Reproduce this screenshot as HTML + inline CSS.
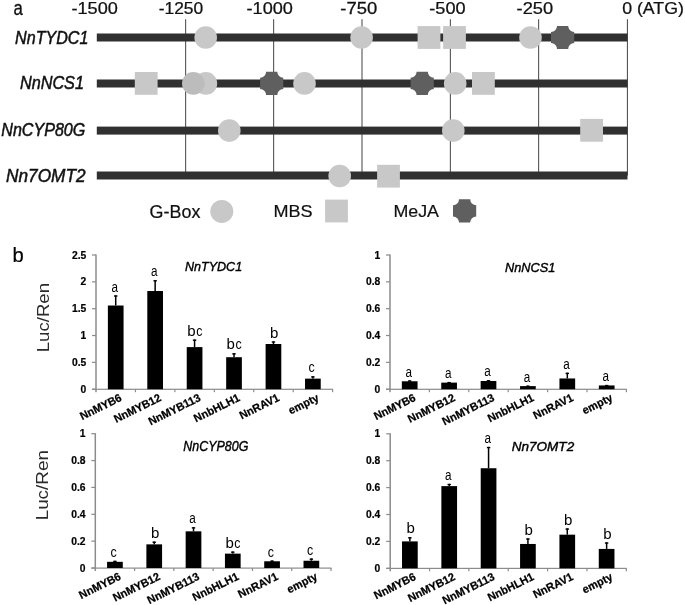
<!DOCTYPE html>
<html><head><meta charset="utf-8"><style>
html,body{margin:0;padding:0;background:#fff;}
svg{display:block;filter:blur(0.3px);font-family:"Liberation Sans",sans-serif;}
</style></head><body>
<svg width="685" height="605" viewBox="0 0 685 605">
<rect width="685" height="605" fill="#fff"/>
<text transform="translate(13.49,14.60) scale(0.8586,1)" font-size="19.54" font-weight="normal" font-style="normal" fill="#111" stroke="#111" stroke-width="0.3">a</text>
<text transform="translate(71.48,14.14) scale(1.1161,1)" font-size="16.25" font-weight="normal" font-style="normal" fill="#111" stroke="#111" stroke-width="0.25">-1500</text>
<text transform="translate(158.72,14.14) scale(1.0713,1)" font-size="16.25" font-weight="normal" font-style="normal" fill="#111" stroke="#111" stroke-width="0.25">-1250</text>
<text transform="translate(246.58,14.14) scale(1.1161,1)" font-size="16.25" font-weight="normal" font-style="normal" fill="#111" stroke="#111" stroke-width="0.25">-1000</text>
<text transform="translate(340.37,14.14) scale(1.1358,1)" font-size="16.25" font-weight="normal" font-style="normal" fill="#111" stroke="#111" stroke-width="0.25">-750</text>
<text transform="translate(429.28,14.14) scale(1.1165,1)" font-size="16.25" font-weight="normal" font-style="normal" fill="#111" stroke="#111" stroke-width="0.25">-500</text>
<text transform="translate(516.58,14.14) scale(1.1230,1)" font-size="16.25" font-weight="normal" font-style="normal" fill="#111" stroke="#111" stroke-width="0.25">-250</text>
<text transform="translate(622.19,13.94) scale(1.1104,1)" font-size="15.97" font-weight="normal" font-style="normal" fill="#111" stroke="#111" stroke-width="0.25">0 (ATG)</text>
<text transform="translate(15.12,43.70) scale(0.8996,1)" font-size="17.89" font-weight="normal" font-style="italic" fill="#111" stroke="#111" stroke-width="0.5">NnTYDC1</text>
<text transform="translate(19.91,89.00) scale(0.8998,1)" font-size="18.04" font-weight="normal" font-style="italic" fill="#111" stroke="#111" stroke-width="0.5">NnNCS1</text>
<text transform="translate(1.27,136.00) scale(0.8926,1)" font-size="18.04" font-weight="normal" font-style="italic" fill="#111" stroke="#111" stroke-width="0.5">NnCYP80G</text>
<text transform="translate(6.08,182.00) scale(0.9334,1)" font-size="18.47" font-weight="normal" font-style="italic" fill="#111" stroke="#111" stroke-width="0.5">Nn7OMT2</text>
<rect x="185.15" y="19.2" width="1" height="156.3" fill="#444"/>
<rect x="273.15" y="19.2" width="1" height="156.3" fill="#444"/>
<rect x="361.50" y="19.2" width="1" height="156.3" fill="#444"/>
<rect x="449.85" y="19.2" width="1" height="156.3" fill="#444"/>
<rect x="538.15" y="19.2" width="1" height="156.3" fill="#444"/>
<rect x="626.90" y="19.2" width="1" height="156.3" fill="#444"/>
<rect x="96.8" y="33.5" width="530.7" height="8" fill="#303030"/>
<rect x="96.8" y="79.5" width="530.7" height="8" fill="#303030"/>
<rect x="96.8" y="126.6" width="530.7" height="8" fill="#303030"/>
<rect x="96.8" y="171.5" width="530.7" height="8" fill="#303030"/>
<circle cx="205.7" cy="37.5" r="11.3" fill="#c8c8c8"/>
<circle cx="361.6" cy="37.5" r="11.3" fill="#c8c8c8"/>
<rect x="417.60" y="26.10" width="22.8" height="22.8" fill="#c8c8c8"/>
<rect x="443.10" y="26.10" width="22.8" height="22.8" fill="#c8c8c8"/>
<circle cx="530.5" cy="37.5" r="11.3" fill="#c8c8c8"/>
<path d="M557.00,25.90 L568.20,25.90 A6.0,6.0 0 0 0 574.20,31.90 L574.20,43.10 A6.0,6.0 0 0 0 568.20,49.10 L557.00,49.10 A6.0,6.0 0 0 0 551.00,43.10 L551.00,31.90 A6.0,6.0 0 0 0 557.00,25.90 Z" fill="#5f5f5f"/>
<rect x="134.80" y="72.00" width="22.8" height="22.8" fill="#c8c8c8"/>
<circle cx="205.9" cy="83.4" r="11.3" fill="#c8c8c8"/>
<circle cx="193.3" cy="83.4" r="11.3" fill="#bcbcbc"/>
<path d="M266.10,71.80 L277.30,71.80 A6.0,6.0 0 0 0 283.30,77.80 L283.30,89.00 A6.0,6.0 0 0 0 277.30,95.00 L266.10,95.00 A6.0,6.0 0 0 0 260.10,89.00 L260.10,77.80 A6.0,6.0 0 0 0 266.10,71.80 Z" fill="#5f5f5f"/>
<circle cx="304.5" cy="83.4" r="11.3" fill="#c8c8c8"/>
<path d="M416.60,71.80 L427.80,71.80 A6.0,6.0 0 0 0 433.80,77.80 L433.80,89.00 A6.0,6.0 0 0 0 427.80,95.00 L416.60,95.00 A6.0,6.0 0 0 0 410.60,89.00 L410.60,77.80 A6.0,6.0 0 0 0 416.60,71.80 Z" fill="#5f5f5f"/>
<circle cx="455.2" cy="83.4" r="11.3" fill="#c8c8c8"/>
<rect x="472.00" y="72.00" width="22.8" height="22.8" fill="#c8c8c8"/>
<circle cx="229.3" cy="130.6" r="11.3" fill="#c8c8c8"/>
<circle cx="453.3" cy="130.6" r="11.3" fill="#c8c8c8"/>
<rect x="580.20" y="118.90" width="22.8" height="22.8" fill="#c8c8c8"/>
<circle cx="339.7" cy="176.0" r="11.3" fill="#c8c8c8"/>
<rect x="377.10" y="164.80" width="22.8" height="22.8" fill="#c8c8c8"/>
<text transform="translate(149.60,217.60) scale(1.0185,1)" font-size="17.60" font-weight="normal" font-style="normal" fill="#111" stroke="#111" stroke-width="0.2">G-Box</text>
<circle cx="221.8" cy="211.4" r="11.5" fill="#c8c8c8"/>
<text transform="translate(273.41,216.90) scale(1.0613,1)" font-size="17.02" font-weight="normal" font-style="normal" fill="#111" stroke="#111" stroke-width="0.2">MBS</text>
<rect x="325.10" y="199.60" width="22.8" height="22.8" fill="#c8c8c8"/>
<text transform="translate(393.43,216.90) scale(1.0481,1)" font-size="17.02" font-weight="normal" font-style="normal" fill="#111" stroke="#111" stroke-width="0.2">MeJA</text>
<path d="M459.00,199.30 L470.20,199.30 A6.0,6.0 0 0 0 476.20,205.30 L476.20,216.50 A6.0,6.0 0 0 0 470.20,222.50 L459.00,222.50 A6.0,6.0 0 0 0 453.00,216.50 L453.00,205.30 A6.0,6.0 0 0 0 459.00,199.30 Z" fill="#5f5f5f"/>
<text transform="translate(12.39,261.59) scale(0.9652,1)" font-size="20.95" font-weight="normal" font-style="normal" fill="#000" stroke="#000" stroke-width="0.2">b</text>
<rect x="95.25" y="254.50" width="1.5" height="137.70" fill="#8c8c8c"/>
<rect x="92.00" y="388.70" width="241.10" height="1.2" fill="#8c8c8c"/>
<rect x="92.00" y="388.60" width="4" height="1.2" fill="#8c8c8c"/>
<rect x="92.00" y="361.76" width="4" height="1.2" fill="#8c8c8c"/>
<rect x="92.00" y="334.92" width="4" height="1.2" fill="#8c8c8c"/>
<rect x="92.00" y="308.08" width="4" height="1.2" fill="#8c8c8c"/>
<rect x="92.00" y="281.24" width="4" height="1.2" fill="#8c8c8c"/>
<rect x="92.00" y="254.40" width="4" height="1.2" fill="#8c8c8c"/>
<rect x="134.83" y="389.20" width="1.2" height="3" fill="#8c8c8c"/>
<rect x="174.27" y="389.20" width="1.2" height="3" fill="#8c8c8c"/>
<rect x="213.70" y="389.20" width="1.2" height="3" fill="#8c8c8c"/>
<rect x="253.13" y="389.20" width="1.2" height="3" fill="#8c8c8c"/>
<rect x="292.57" y="389.20" width="1.2" height="3" fill="#8c8c8c"/>
<rect x="332.00" y="389.20" width="1.2" height="3" fill="#8c8c8c"/>
<rect x="107.87" y="305.51" width="15.7" height="83.69" fill="#000"/>
<rect x="114.97" y="295.31" width="1.5" height="10.20" fill="#000"/>
<rect x="114.02" y="295.31" width="3.4" height="1.4" fill="#000"/>
<text transform="translate(111.57,291.51) scale(0.78,1)" font-size="15.0" fill="#000">a</text>
<rect x="147.30" y="291.02" width="15.7" height="98.18" fill="#000"/>
<rect x="154.40" y="280.12" width="1.5" height="10.90" fill="#000"/>
<rect x="153.45" y="280.12" width="3.4" height="1.4" fill="#000"/>
<text transform="translate(151.00,276.32) scale(0.78,1)" font-size="15.0" fill="#000">a</text>
<rect x="186.73" y="347.11" width="15.7" height="42.09" fill="#000"/>
<rect x="193.83" y="339.49" width="1.5" height="7.62" fill="#000"/>
<rect x="192.88" y="339.49" width="3.4" height="1.4" fill="#000"/>
<text transform="translate(187.18,335.69) scale(1.0,1)" font-size="15.0" fill="#000">b</text>
<text transform="translate(196.13,335.69) scale(0.83,1)" font-size="15.0" fill="#000">c</text>
<rect x="226.17" y="357.21" width="15.7" height="31.99" fill="#000"/>
<rect x="233.27" y="353.18" width="1.5" height="4.03" fill="#000"/>
<rect x="232.32" y="353.18" width="3.4" height="1.4" fill="#000"/>
<text transform="translate(226.62,349.38) scale(1.0,1)" font-size="15.0" fill="#000">b</text>
<text transform="translate(235.56,349.38) scale(0.83,1)" font-size="15.0" fill="#000">c</text>
<rect x="265.60" y="344.00" width="15.7" height="45.20" fill="#000"/>
<rect x="272.70" y="341.32" width="1.5" height="2.68" fill="#000"/>
<rect x="271.75" y="341.32" width="3.4" height="1.4" fill="#000"/>
<text transform="translate(270.12,337.52) scale(1.0,1)" font-size="15.0" fill="#000">b</text>
<rect x="305.03" y="378.63" width="15.7" height="10.57" fill="#000"/>
<rect x="312.13" y="376.21" width="1.5" height="2.42" fill="#000"/>
<rect x="311.18" y="376.21" width="3.4" height="1.4" fill="#000"/>
<text transform="translate(308.48,372.41) scale(0.83,1)" font-size="15.0" fill="#000">c</text>
<text x="86.30" y="392.80" text-anchor="end" font-size="10.3" font-weight="bold" fill="#000" stroke="#000" stroke-width="0.2">0</text>
<text x="86.30" y="365.96" text-anchor="end" font-size="10.3" font-weight="bold" fill="#000" stroke="#000" stroke-width="0.2">0.5</text>
<text x="86.30" y="339.12" text-anchor="end" font-size="10.3" font-weight="bold" fill="#000" stroke="#000" stroke-width="0.2">1</text>
<text x="86.30" y="312.28" text-anchor="end" font-size="10.3" font-weight="bold" fill="#000" stroke="#000" stroke-width="0.2">1.5</text>
<text x="86.30" y="285.44" text-anchor="end" font-size="10.3" font-weight="bold" fill="#000" stroke="#000" stroke-width="0.2">2</text>
<text x="86.30" y="258.60" text-anchor="end" font-size="10.3" font-weight="bold" fill="#000" stroke="#000" stroke-width="0.2">2.5</text>
<text transform="translate(122.52,400.20) rotate(-26.5) scale(0.975,1)" text-anchor="end" font-size="11.25" font-weight="bold" font-style="normal" fill="#000" stroke="#000" stroke-width="0.25">NnMYB6</text>
<text transform="translate(161.95,400.20) rotate(-26.5) scale(0.975,1)" text-anchor="end" font-size="11.25" font-weight="bold" font-style="normal" fill="#000" stroke="#000" stroke-width="0.25">NnMYB12</text>
<text transform="translate(201.38,400.20) rotate(-26.5) scale(0.975,1)" text-anchor="end" font-size="11.25" font-weight="bold" font-style="normal" fill="#000" stroke="#000" stroke-width="0.25">NnMYB113</text>
<text transform="translate(240.82,400.20) rotate(-26.5) scale(0.975,1)" text-anchor="end" font-size="11.25" font-weight="bold" font-style="normal" fill="#000" stroke="#000" stroke-width="0.25">NnbHLH1</text>
<text transform="translate(280.25,400.20) rotate(-26.5) scale(0.975,1)" text-anchor="end" font-size="11.25" font-weight="bold" font-style="normal" fill="#000" stroke="#000" stroke-width="0.25">NnRAV1</text>
<text transform="translate(319.68,400.20) rotate(-26.5) scale(0.975,1)" text-anchor="end" font-size="11.25" font-weight="bold" font-style="normal" fill="#000" stroke="#000" stroke-width="0.25">empty</text>
<text transform="translate(184.92,271.30) scale(0.9703,1)" font-size="12.95" font-weight="normal" font-style="italic" fill="#000" stroke="#000" stroke-width="0.4">NnTYDC1</text>
<rect x="389.25" y="254.50" width="1.5" height="137.70" fill="#8c8c8c"/>
<rect x="386.00" y="388.70" width="240.90" height="1.2" fill="#8c8c8c"/>
<rect x="386.00" y="388.60" width="4" height="1.2" fill="#8c8c8c"/>
<rect x="386.00" y="361.76" width="4" height="1.2" fill="#8c8c8c"/>
<rect x="386.00" y="334.92" width="4" height="1.2" fill="#8c8c8c"/>
<rect x="386.00" y="308.08" width="4" height="1.2" fill="#8c8c8c"/>
<rect x="386.00" y="281.24" width="4" height="1.2" fill="#8c8c8c"/>
<rect x="386.00" y="254.40" width="4" height="1.2" fill="#8c8c8c"/>
<rect x="428.80" y="389.20" width="1.2" height="3" fill="#8c8c8c"/>
<rect x="468.20" y="389.20" width="1.2" height="3" fill="#8c8c8c"/>
<rect x="507.60" y="389.20" width="1.2" height="3" fill="#8c8c8c"/>
<rect x="547.00" y="389.20" width="1.2" height="3" fill="#8c8c8c"/>
<rect x="586.40" y="389.20" width="1.2" height="3" fill="#8c8c8c"/>
<rect x="625.80" y="389.20" width="1.2" height="3" fill="#8c8c8c"/>
<rect x="401.85" y="381.28" width="15.7" height="7.92" fill="#000"/>
<rect x="408.95" y="380.34" width="1.5" height="0.94" fill="#000"/>
<rect x="408.00" y="380.34" width="3.4" height="1.4" fill="#000"/>
<text transform="translate(405.55,376.54) scale(0.78,1)" font-size="15.0" fill="#000">a</text>
<rect x="441.25" y="382.62" width="15.7" height="6.58" fill="#000"/>
<rect x="448.35" y="381.95" width="1.5" height="0.67" fill="#000"/>
<rect x="447.40" y="381.95" width="3.4" height="1.4" fill="#000"/>
<text transform="translate(444.95,378.15) scale(0.78,1)" font-size="15.0" fill="#000">a</text>
<rect x="480.65" y="381.01" width="15.7" height="8.19" fill="#000"/>
<rect x="487.75" y="380.07" width="1.5" height="0.94" fill="#000"/>
<rect x="486.80" y="380.07" width="3.4" height="1.4" fill="#000"/>
<text transform="translate(484.35,376.27) scale(0.78,1)" font-size="15.0" fill="#000">a</text>
<rect x="520.05" y="386.11" width="15.7" height="3.09" fill="#000"/>
<rect x="527.15" y="385.58" width="1.5" height="0.54" fill="#000"/>
<rect x="526.20" y="385.58" width="3.4" height="1.4" fill="#000"/>
<text transform="translate(523.75,381.78) scale(0.78,1)" font-size="15.0" fill="#000">a</text>
<rect x="559.45" y="378.46" width="15.7" height="10.74" fill="#000"/>
<rect x="566.55" y="372.69" width="1.5" height="5.77" fill="#000"/>
<rect x="565.60" y="372.69" width="3.4" height="1.4" fill="#000"/>
<text transform="translate(563.15,368.89) scale(0.78,1)" font-size="15.0" fill="#000">a</text>
<rect x="598.85" y="385.44" width="15.7" height="3.76" fill="#000"/>
<rect x="605.95" y="384.91" width="1.5" height="0.54" fill="#000"/>
<rect x="605.00" y="384.91" width="3.4" height="1.4" fill="#000"/>
<text transform="translate(602.55,381.11) scale(0.78,1)" font-size="15.0" fill="#000">a</text>
<text x="380.30" y="392.80" text-anchor="end" font-size="10.3" font-weight="bold" fill="#000" stroke="#000" stroke-width="0.2">0</text>
<text x="380.30" y="365.96" text-anchor="end" font-size="10.3" font-weight="bold" fill="#000" stroke="#000" stroke-width="0.2">0.2</text>
<text x="380.30" y="339.12" text-anchor="end" font-size="10.3" font-weight="bold" fill="#000" stroke="#000" stroke-width="0.2">0.4</text>
<text x="380.30" y="312.28" text-anchor="end" font-size="10.3" font-weight="bold" fill="#000" stroke="#000" stroke-width="0.2">0.6</text>
<text x="380.30" y="285.44" text-anchor="end" font-size="10.3" font-weight="bold" fill="#000" stroke="#000" stroke-width="0.2">0.8</text>
<text x="380.30" y="258.60" text-anchor="end" font-size="10.3" font-weight="bold" fill="#000" stroke="#000" stroke-width="0.2">1</text>
<text transform="translate(416.50,400.20) rotate(-26.5) scale(0.975,1)" text-anchor="end" font-size="11.25" font-weight="bold" font-style="normal" fill="#000" stroke="#000" stroke-width="0.25">NnMYB6</text>
<text transform="translate(455.90,400.20) rotate(-26.5) scale(0.975,1)" text-anchor="end" font-size="11.25" font-weight="bold" font-style="normal" fill="#000" stroke="#000" stroke-width="0.25">NnMYB12</text>
<text transform="translate(495.30,400.20) rotate(-26.5) scale(0.975,1)" text-anchor="end" font-size="11.25" font-weight="bold" font-style="normal" fill="#000" stroke="#000" stroke-width="0.25">NnMYB113</text>
<text transform="translate(534.70,400.20) rotate(-26.5) scale(0.975,1)" text-anchor="end" font-size="11.25" font-weight="bold" font-style="normal" fill="#000" stroke="#000" stroke-width="0.25">NnbHLH1</text>
<text transform="translate(574.10,400.20) rotate(-26.5) scale(0.975,1)" text-anchor="end" font-size="11.25" font-weight="bold" font-style="normal" fill="#000" stroke="#000" stroke-width="0.25">NnRAV1</text>
<text transform="translate(613.50,400.20) rotate(-26.5) scale(0.975,1)" text-anchor="end" font-size="11.25" font-weight="bold" font-style="normal" fill="#000" stroke="#000" stroke-width="0.25">empty</text>
<text transform="translate(505.02,272.10) scale(0.9836,1)" font-size="12.95" font-weight="normal" font-style="italic" fill="#000" stroke="#000" stroke-width="0.4">NnNCS1</text>
<rect x="94.55" y="433.20" width="1.5" height="137.80" fill="#8c8c8c"/>
<rect x="91.30" y="567.50" width="240.20" height="1.2" fill="#8c8c8c"/>
<rect x="91.30" y="567.40" width="4" height="1.2" fill="#8c8c8c"/>
<rect x="91.30" y="540.54" width="4" height="1.2" fill="#8c8c8c"/>
<rect x="91.30" y="513.68" width="4" height="1.2" fill="#8c8c8c"/>
<rect x="91.30" y="486.82" width="4" height="1.2" fill="#8c8c8c"/>
<rect x="91.30" y="459.96" width="4" height="1.2" fill="#8c8c8c"/>
<rect x="91.30" y="433.10" width="4" height="1.2" fill="#8c8c8c"/>
<rect x="133.98" y="568.00" width="1.2" height="3" fill="#8c8c8c"/>
<rect x="173.27" y="568.00" width="1.2" height="3" fill="#8c8c8c"/>
<rect x="212.55" y="568.00" width="1.2" height="3" fill="#8c8c8c"/>
<rect x="251.83" y="568.00" width="1.2" height="3" fill="#8c8c8c"/>
<rect x="291.12" y="568.00" width="1.2" height="3" fill="#8c8c8c"/>
<rect x="330.40" y="568.00" width="1.2" height="3" fill="#8c8c8c"/>
<rect x="107.09" y="561.82" width="15.7" height="6.18" fill="#000"/>
<rect x="114.19" y="560.75" width="1.5" height="1.07" fill="#000"/>
<rect x="113.24" y="560.75" width="3.4" height="1.4" fill="#000"/>
<text transform="translate(110.54,556.95) scale(0.83,1)" font-size="15.0" fill="#000">c</text>
<rect x="146.38" y="544.36" width="15.7" height="23.64" fill="#000"/>
<rect x="153.47" y="541.54" width="1.5" height="2.82" fill="#000"/>
<rect x="152.53" y="541.54" width="3.4" height="1.4" fill="#000"/>
<text transform="translate(150.90,537.74) scale(1.0,1)" font-size="15.0" fill="#000">b</text>
<rect x="185.66" y="531.34" width="15.7" height="36.66" fill="#000"/>
<rect x="192.76" y="527.17" width="1.5" height="4.16" fill="#000"/>
<rect x="191.81" y="527.17" width="3.4" height="1.4" fill="#000"/>
<text transform="translate(189.36,523.37) scale(0.78,1)" font-size="15.0" fill="#000">a</text>
<rect x="224.94" y="553.63" width="15.7" height="14.37" fill="#000"/>
<rect x="232.04" y="551.48" width="1.5" height="2.15" fill="#000"/>
<rect x="231.09" y="551.48" width="3.4" height="1.4" fill="#000"/>
<text transform="translate(225.39,547.68) scale(1.0,1)" font-size="15.0" fill="#000">b</text>
<text transform="translate(234.34,547.68) scale(0.83,1)" font-size="15.0" fill="#000">c</text>
<rect x="264.22" y="561.28" width="15.7" height="6.72" fill="#000"/>
<rect x="271.32" y="560.48" width="1.5" height="0.81" fill="#000"/>
<rect x="270.38" y="560.48" width="3.4" height="1.4" fill="#000"/>
<text transform="translate(267.67,556.68) scale(0.83,1)" font-size="15.0" fill="#000">c</text>
<rect x="303.51" y="560.75" width="15.7" height="7.25" fill="#000"/>
<rect x="310.61" y="558.46" width="1.5" height="2.28" fill="#000"/>
<rect x="309.66" y="558.46" width="3.4" height="1.4" fill="#000"/>
<text transform="translate(306.95,554.66) scale(0.83,1)" font-size="15.0" fill="#000">c</text>
<text x="85.50" y="571.60" text-anchor="end" font-size="10.3" font-weight="bold" fill="#000" stroke="#000" stroke-width="0.2">0</text>
<text x="85.50" y="544.74" text-anchor="end" font-size="10.3" font-weight="bold" fill="#000" stroke="#000" stroke-width="0.2">0.2</text>
<text x="85.50" y="517.88" text-anchor="end" font-size="10.3" font-weight="bold" fill="#000" stroke="#000" stroke-width="0.2">0.4</text>
<text x="85.50" y="491.02" text-anchor="end" font-size="10.3" font-weight="bold" fill="#000" stroke="#000" stroke-width="0.2">0.6</text>
<text x="85.50" y="464.16" text-anchor="end" font-size="10.3" font-weight="bold" fill="#000" stroke="#000" stroke-width="0.2">0.8</text>
<text x="85.50" y="437.30" text-anchor="end" font-size="10.3" font-weight="bold" fill="#000" stroke="#000" stroke-width="0.2">1</text>
<text transform="translate(121.74,579.00) rotate(-26.5) scale(0.975,1)" text-anchor="end" font-size="11.25" font-weight="bold" font-style="normal" fill="#000" stroke="#000" stroke-width="0.25">NnMYB6</text>
<text transform="translate(161.03,579.00) rotate(-26.5) scale(0.975,1)" text-anchor="end" font-size="11.25" font-weight="bold" font-style="normal" fill="#000" stroke="#000" stroke-width="0.25">NnMYB12</text>
<text transform="translate(200.31,579.00) rotate(-26.5) scale(0.975,1)" text-anchor="end" font-size="11.25" font-weight="bold" font-style="normal" fill="#000" stroke="#000" stroke-width="0.25">NnMYB113</text>
<text transform="translate(239.59,579.00) rotate(-26.5) scale(0.975,1)" text-anchor="end" font-size="11.25" font-weight="bold" font-style="normal" fill="#000" stroke="#000" stroke-width="0.25">NnbHLH1</text>
<text transform="translate(278.88,579.00) rotate(-26.5) scale(0.975,1)" text-anchor="end" font-size="11.25" font-weight="bold" font-style="normal" fill="#000" stroke="#000" stroke-width="0.25">NnRAV1</text>
<text transform="translate(318.16,579.00) rotate(-26.5) scale(0.975,1)" text-anchor="end" font-size="11.25" font-weight="bold" font-style="normal" fill="#000" stroke="#000" stroke-width="0.25">empty</text>
<text transform="translate(183.33,450.60) scale(0.8741,1)" font-size="14.25" font-weight="normal" font-style="italic" fill="#000" stroke="#000" stroke-width="0.4">NnCYP80G</text>
<rect x="389.45" y="433.30" width="1.5" height="138.00" fill="#8c8c8c"/>
<rect x="386.20" y="567.80" width="240.60" height="1.2" fill="#8c8c8c"/>
<rect x="386.20" y="567.70" width="4" height="1.2" fill="#8c8c8c"/>
<rect x="386.20" y="540.80" width="4" height="1.2" fill="#8c8c8c"/>
<rect x="386.20" y="513.90" width="4" height="1.2" fill="#8c8c8c"/>
<rect x="386.20" y="487.00" width="4" height="1.2" fill="#8c8c8c"/>
<rect x="386.20" y="460.10" width="4" height="1.2" fill="#8c8c8c"/>
<rect x="386.20" y="433.20" width="4" height="1.2" fill="#8c8c8c"/>
<rect x="428.95" y="568.30" width="1.2" height="3" fill="#8c8c8c"/>
<rect x="468.30" y="568.30" width="1.2" height="3" fill="#8c8c8c"/>
<rect x="507.65" y="568.30" width="1.2" height="3" fill="#8c8c8c"/>
<rect x="547.00" y="568.30" width="1.2" height="3" fill="#8c8c8c"/>
<rect x="586.35" y="568.30" width="1.2" height="3" fill="#8c8c8c"/>
<rect x="625.70" y="568.30" width="1.2" height="3" fill="#8c8c8c"/>
<rect x="402.02" y="541.40" width="15.7" height="26.90" fill="#000"/>
<rect x="409.12" y="537.10" width="1.5" height="4.30" fill="#000"/>
<rect x="408.18" y="537.10" width="3.4" height="1.4" fill="#000"/>
<text transform="translate(406.55,533.30) scale(1.0,1)" font-size="15.0" fill="#000">b</text>
<rect x="441.37" y="486.12" width="15.7" height="82.18" fill="#000"/>
<rect x="448.47" y="483.83" width="1.5" height="2.29" fill="#000"/>
<rect x="447.52" y="483.83" width="3.4" height="1.4" fill="#000"/>
<text transform="translate(445.08,480.03) scale(0.78,1)" font-size="15.0" fill="#000">a</text>
<rect x="480.72" y="468.23" width="15.7" height="100.07" fill="#000"/>
<rect x="487.82" y="446.85" width="1.5" height="21.39" fill="#000"/>
<rect x="486.88" y="446.85" width="3.4" height="1.4" fill="#000"/>
<text transform="translate(484.43,443.05) scale(0.78,1)" font-size="15.0" fill="#000">a</text>
<rect x="520.07" y="543.96" width="15.7" height="24.34" fill="#000"/>
<rect x="527.17" y="538.31" width="1.5" height="5.65" fill="#000"/>
<rect x="526.22" y="538.31" width="3.4" height="1.4" fill="#000"/>
<text transform="translate(524.60,534.51) scale(1.0,1)" font-size="15.0" fill="#000">b</text>
<rect x="559.42" y="534.67" width="15.7" height="33.62" fill="#000"/>
<rect x="566.52" y="528.35" width="1.5" height="6.32" fill="#000"/>
<rect x="565.57" y="528.35" width="3.4" height="1.4" fill="#000"/>
<text transform="translate(563.95,524.55) scale(1.0,1)" font-size="15.0" fill="#000">b</text>
<rect x="598.77" y="548.93" width="15.7" height="19.37" fill="#000"/>
<rect x="605.88" y="542.34" width="1.5" height="6.59" fill="#000"/>
<rect x="604.92" y="542.34" width="3.4" height="1.4" fill="#000"/>
<text transform="translate(603.30,538.54) scale(1.0,1)" font-size="15.0" fill="#000">b</text>
<text x="380.30" y="571.90" text-anchor="end" font-size="10.3" font-weight="bold" fill="#000" stroke="#000" stroke-width="0.2">0</text>
<text x="380.30" y="545.00" text-anchor="end" font-size="10.3" font-weight="bold" fill="#000" stroke="#000" stroke-width="0.2">0.2</text>
<text x="380.30" y="518.10" text-anchor="end" font-size="10.3" font-weight="bold" fill="#000" stroke="#000" stroke-width="0.2">0.4</text>
<text x="380.30" y="491.20" text-anchor="end" font-size="10.3" font-weight="bold" fill="#000" stroke="#000" stroke-width="0.2">0.6</text>
<text x="380.30" y="464.30" text-anchor="end" font-size="10.3" font-weight="bold" fill="#000" stroke="#000" stroke-width="0.2">0.8</text>
<text x="380.30" y="437.40" text-anchor="end" font-size="10.3" font-weight="bold" fill="#000" stroke="#000" stroke-width="0.2">1</text>
<text transform="translate(416.68,579.30) rotate(-26.5) scale(0.975,1)" text-anchor="end" font-size="11.25" font-weight="bold" font-style="normal" fill="#000" stroke="#000" stroke-width="0.25">NnMYB6</text>
<text transform="translate(456.02,579.30) rotate(-26.5) scale(0.975,1)" text-anchor="end" font-size="11.25" font-weight="bold" font-style="normal" fill="#000" stroke="#000" stroke-width="0.25">NnMYB12</text>
<text transform="translate(495.38,579.30) rotate(-26.5) scale(0.975,1)" text-anchor="end" font-size="11.25" font-weight="bold" font-style="normal" fill="#000" stroke="#000" stroke-width="0.25">NnMYB113</text>
<text transform="translate(534.72,579.30) rotate(-26.5) scale(0.975,1)" text-anchor="end" font-size="11.25" font-weight="bold" font-style="normal" fill="#000" stroke="#000" stroke-width="0.25">NnbHLH1</text>
<text transform="translate(574.07,579.30) rotate(-26.5) scale(0.975,1)" text-anchor="end" font-size="11.25" font-weight="bold" font-style="normal" fill="#000" stroke="#000" stroke-width="0.25">NnRAV1</text>
<text transform="translate(613.42,579.30) rotate(-26.5) scale(0.975,1)" text-anchor="end" font-size="11.25" font-weight="bold" font-style="normal" fill="#000" stroke="#000" stroke-width="0.25">empty</text>
<text transform="translate(511.79,451.20) scale(1.0446,1)" font-size="12.95" font-weight="normal" font-style="italic" fill="#000" stroke="#000" stroke-width="0.4">Nn7OMT2</text>
<text transform="translate(48.70,352.34) rotate(-90) scale(1.0963,1)" font-size="17.02" font-weight="normal" font-style="normal" fill="#2a2a2a">Luc/Ren</text>
<text transform="translate(48.40,520.36) rotate(-90) scale(1.1387,1)" font-size="16.58" font-weight="normal" font-style="normal" fill="#2a2a2a">Luc/Ren</text>
</svg></body></html>
